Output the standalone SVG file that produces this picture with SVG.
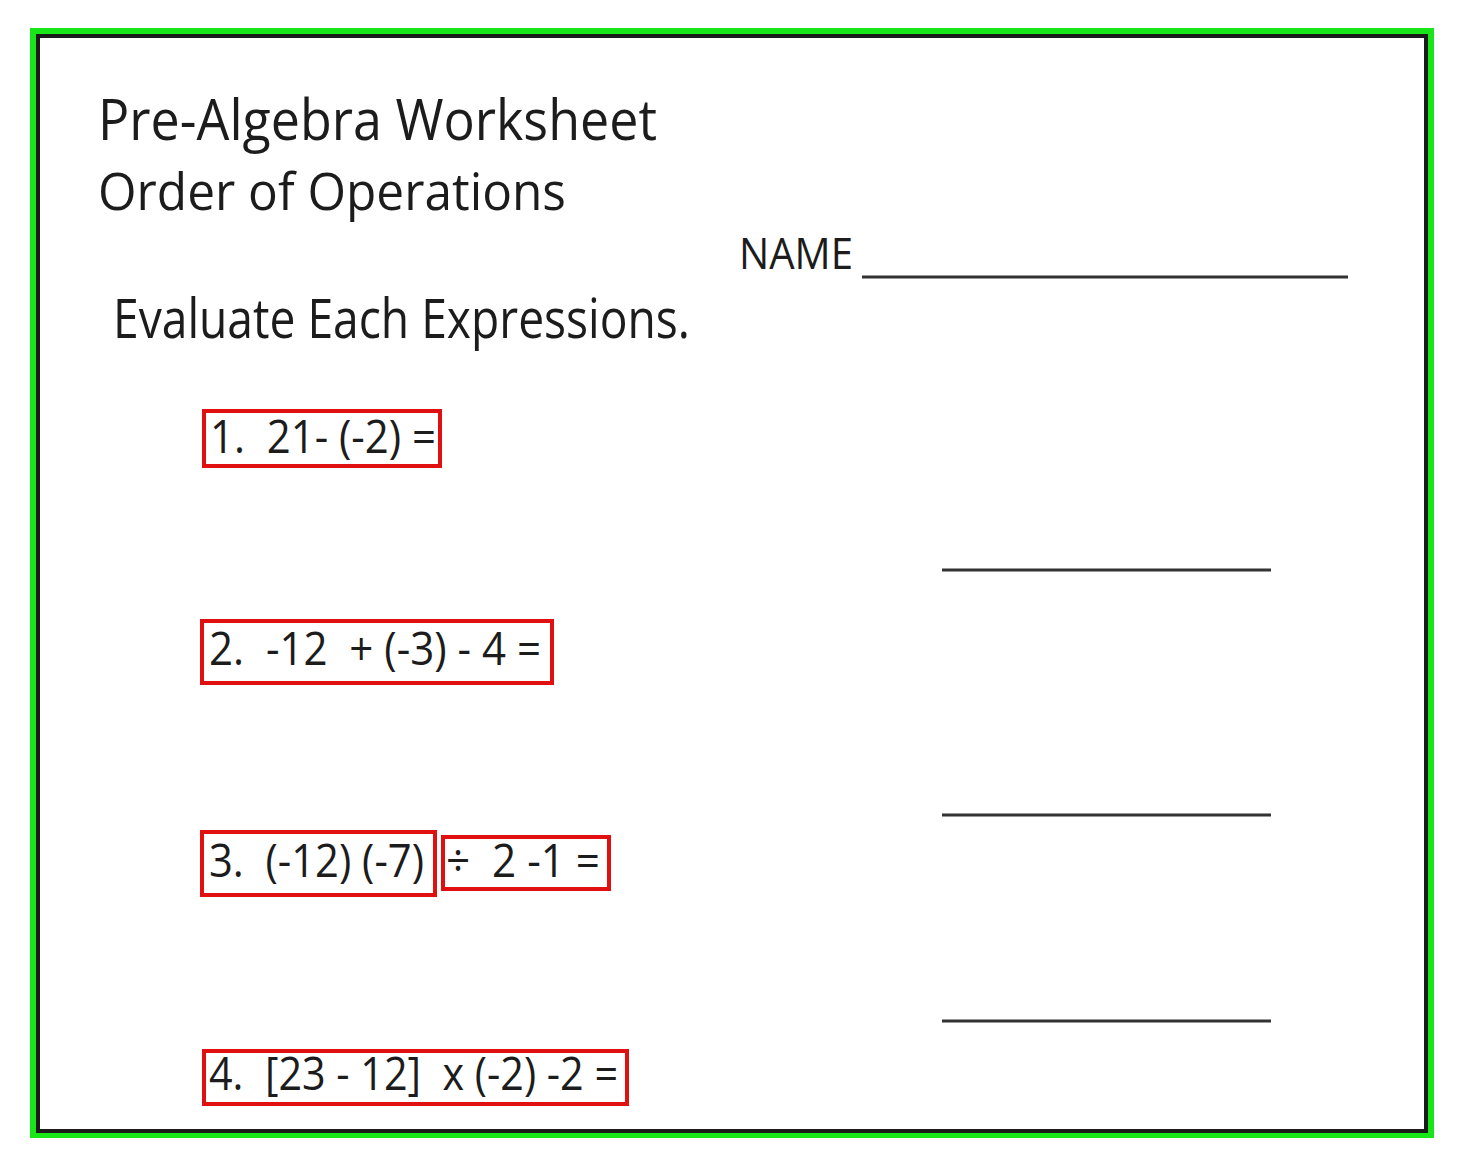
<svg xmlns="http://www.w3.org/2000/svg" width="1463" height="1168" viewBox="0 0 1463 1168">
<style>
text{font-family:"Open Sans","Noto Sans","Liberation Sans",sans-serif;fill:#1c1c1c;white-space:pre}
.box{fill:none;stroke:#e01010;stroke-width:4}
.line{stroke:#333;stroke-width:3}
</style>
<rect x="0" y="0" width="1463" height="1168" fill="#ffffff"/>
<g id="frame">
<rect x="33" y="31" width="1398" height="1104" fill="none" stroke="#19e619" stroke-width="6"/>
<rect x="38" y="36" width="1388" height="1095" fill="none" stroke="#1a1a1a" stroke-width="4"/>
</g>
<g id="header">
<text x="98" y="140" font-size="56" textLength="559" lengthAdjust="spacingAndGlyphs">Pre-Algebra Worksheet</text>
<text x="98" y="210" font-size="51" textLength="468" lengthAdjust="spacingAndGlyphs">Order of Operations</text>
<text x="739" y="269" font-size="44" textLength="114" lengthAdjust="spacingAndGlyphs">NAME</text>
<line class="line" x1="862" y1="277" x2="1348" y2="277"/>
<text x="113" y="338" font-size="54" textLength="577" lengthAdjust="spacingAndGlyphs">Evaluate Each Expressions.</text>
</g>
<g id="answer-lines">
<line class="line" x1="942" y1="570" x2="1271" y2="570"/>
<line class="line" x1="942" y1="815" x2="1271" y2="815"/>
<line class="line" x1="942" y1="1021" x2="1271" y2="1021"/>
</g>
<g id="problem-1">
<rect class="box" x="204" y="411" width="236" height="55"/>
<text x="210" y="453" font-size="46" textLength="226" lengthAdjust="spacingAndGlyphs">1.  21- (-2) =</text>
</g>
<g id="problem-2">
<rect class="box" x="202" y="621" width="350" height="62"/>
<text x="209" y="665" font-size="46" textLength="332" lengthAdjust="spacingAndGlyphs">2.  -12  + (-3) - 4 =</text>
</g>
<g id="problem-3a">
<rect class="box" x="202" y="832" width="233" height="63"/>
<text x="209" y="877" font-size="46" textLength="215" lengthAdjust="spacingAndGlyphs">3.  (-12) (-7)</text>
</g>
<g id="problem-3b">
<rect class="box" x="443" y="837" width="166" height="52"/>
<text x="446" y="877" font-size="46" textLength="154" lengthAdjust="spacingAndGlyphs">÷  2 -1 =</text>
</g>
<g id="problem-4">
<rect class="box" x="204" y="1051" width="423" height="53"/>
<text x="209" y="1090" font-size="46" textLength="409" lengthAdjust="spacingAndGlyphs">4.  [23 - 12]  x (-2) -2 =</text>
</g>
</svg>
